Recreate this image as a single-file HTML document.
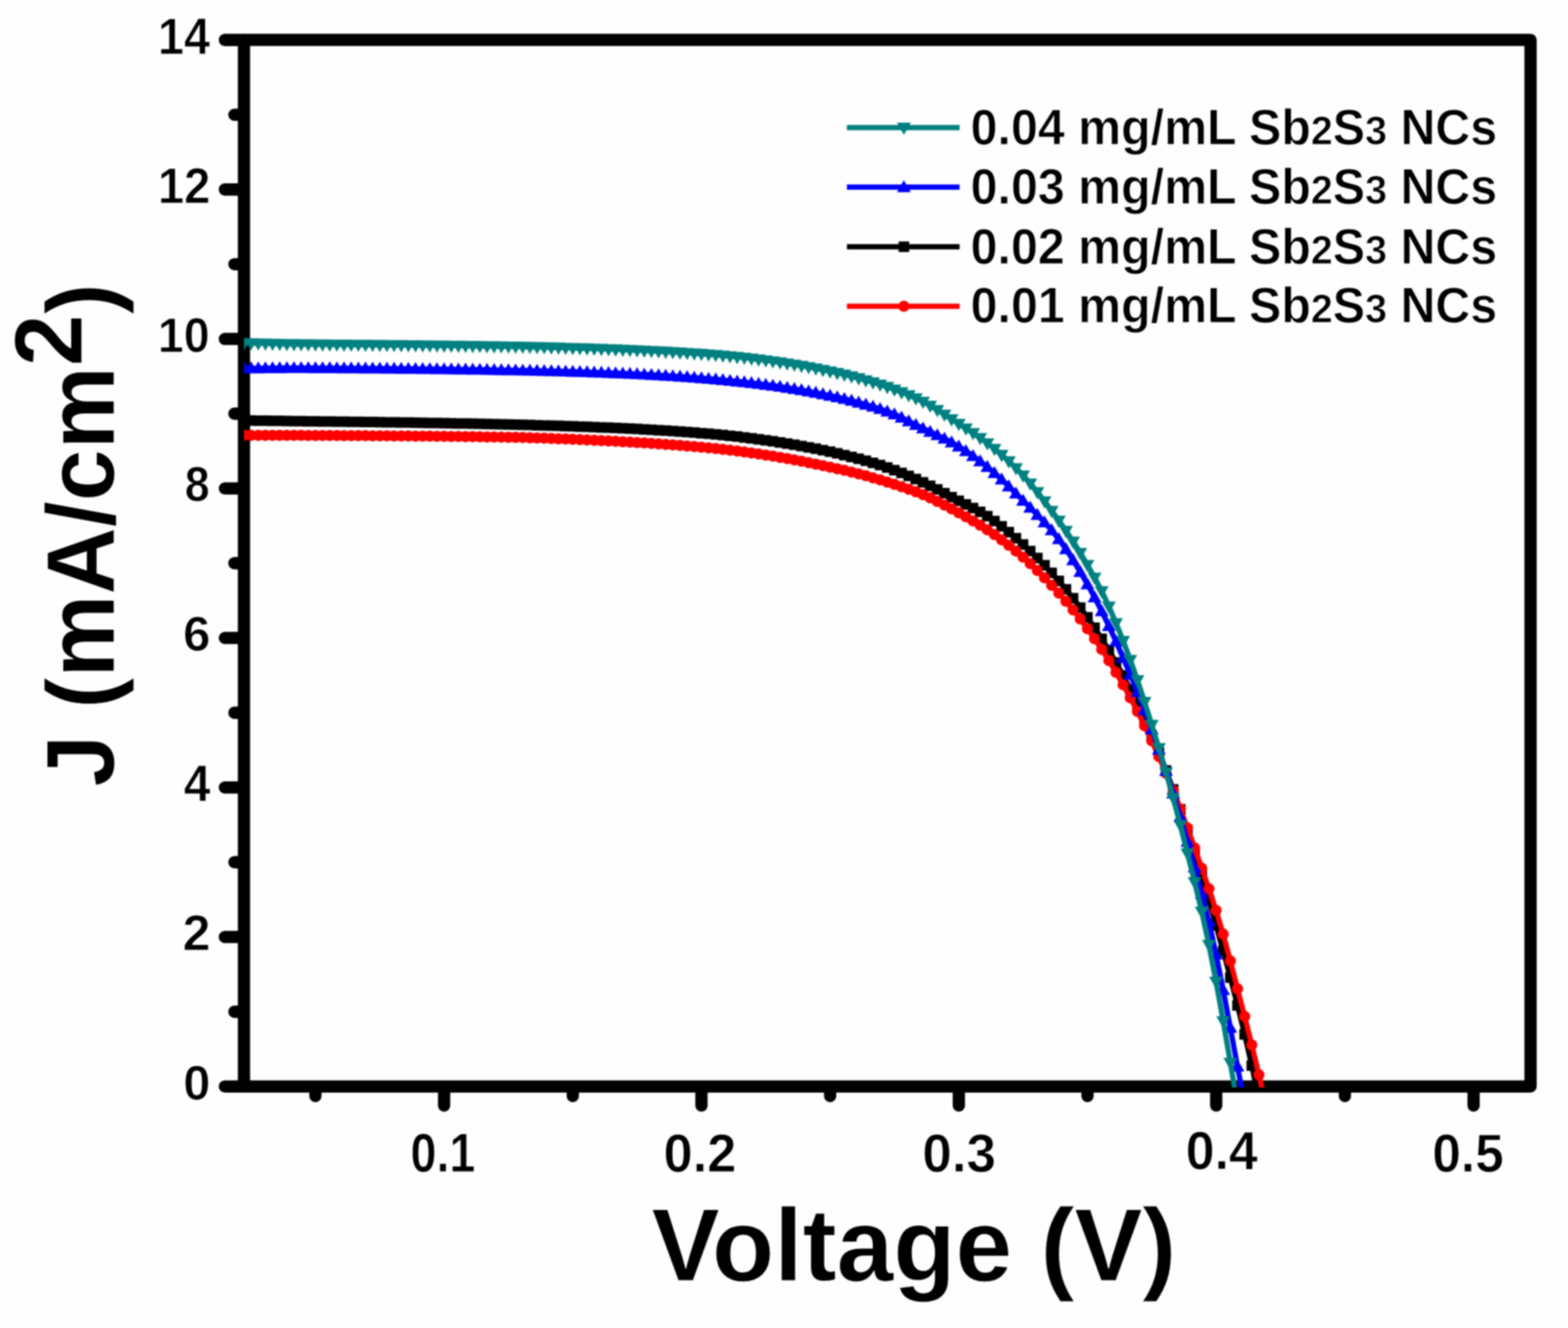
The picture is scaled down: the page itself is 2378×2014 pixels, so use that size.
<!DOCTYPE html>
<html><head><meta charset="utf-8"><title>J-V curves</title>
<style>
html,body{margin:0;padding:0;background:#fefefe;}
svg{display:block;filter:blur(1px);}
text{font-family:"Liberation Sans",Arial,sans-serif;font-weight:bold;fill:#000;stroke:#fefefe;stroke-width:1px;}
</style></head>
<body>
<svg width="2378" height="2014" viewBox="0 0 2378 2014">
<defs><clipPath id="pa"><rect x="370" y="60.5" width="1951.1999999999998" height="1588.7"/></clipPath></defs>
<rect width="2378" height="2014" fill="#fefefe"/>
<path d="M370 60.5H2321.2V1647.7H370Z" fill="none" stroke="#000" stroke-width="18.6" stroke-linejoin="round"/>
<path d="M369 1647.7H341M369 1534.34H355.5M369 1420.97H341M369 1307.61H355.5M369 1194.24H341M369 1080.88H355.5M369 967.52H341M369 854.15H355.5M369 740.79H341M369 627.42H355.5M369 514.06H341M369 400.7H355.5M369 287.33H341M369 173.97H355.5M369 60.6H341M478.33 1648.7V1662.2M673.5 1648.7V1676.7M868.66 1648.7V1662.2M1063.82 1648.7V1676.7M1258.98 1648.7V1662.2M1454.15 1648.7V1676.7M1649.31 1648.7V1662.2M1844.47 1648.7V1676.7M2039.63 1648.7V1662.2M2234.8 1648.7V1676.7" stroke="#000" stroke-width="18.6" stroke-linecap="round"/>
<g clip-path="url(#pa)">
<path d="M370 637.67 380.84 637.8 391.68 637.94 402.52 638.07 413.36 638.21 424.2 638.35 435.04 638.49 445.88 638.63 456.72 638.76 467.56 638.89 478.4 639.01 489.24 639.14 500.08 639.27 510.92 639.4 521.76 639.53 532.6 639.67 543.44 639.8 554.28 639.95 565.12 640.09 575.96 640.24 586.8 640.39 597.64 640.55 608.48 640.71 619.32 640.87 630.16 641.04 641 641.21 651.84 641.39 662.68 641.57 673.52 641.76 684.36 641.96 695.2 642.16 706.04 642.37 716.88 642.58 727.72 642.8 738.56 643.03 749.4 643.27 760.24 643.52 771.08 643.77 781.92 644.04 792.76 644.31 803.6 644.6 814.44 644.89 825.28 645.19 836.12 645.51 846.96 645.84 857.8 646.18 868.64 646.54 879.48 646.92 890.32 647.31 901.16 647.72 912 648.15 922.84 648.6 933.68 649.07 944.52 649.56 955.36 650.08 966.2 650.62 977.04 651.19 987.88 651.79 998.72 652.41 1009.56 653.07 1020.4 653.77 1031.24 654.49 1042.08 655.26 1052.92 656.06 1063.76 656.91 1074.6 657.8 1085.44 658.75 1096.28 659.77 1107.12 660.89 1117.96 662.11 1128.8 663.4 1139.64 664.77 1150.48 666.2 1161.32 667.7 1172.16 669.27 1183 670.93 1193.84 672.66 1204.68 674.48 1215.52 676.39 1226.36 678.4 1237.2 680.51 1248.04 682.73 1258.88 685.07 1269.72 687.54 1280.56 690.14 1291.4 692.88 1302.24 695.76 1313.08 698.79 1323.92 701.99 1334.76 705.37 1345.6 709.01 1356.44 712.93 1367.28 717.16 1378.12 721.67 1388.96 726.43 1399.8 731.45 1410.64 736.75 1421.48 742.33 1432.32 748.11 1443.16 753.92 1454 759.52 1464.84 764.96 1475.68 770.48 1486.52 776.35 1497.36 782.83 1508.2 790.15 1519.04 798.25 1529.88 806.96 1540.72 816.15 1551.56 825.74 1562.4 835.72 1573.24 846.17 1584.08 857.19 1594.92 868.78 1605.76 880.96 1616.6 893.74 1627.44 907.21 1638.28 921.39 1649.12 936.33 1659.96 952.07 1670.8 968.64 1681.64 986.11 1692.48 1004.68 1703.32 1024.5 1714.16 1045.49 1725 1067.62 1735.84 1090.93 1746.68 1115.49 1757.52 1141.36 1768.36 1168.61 1779.2 1197.29 1790.04 1227.49 1800.88 1259.27 1811.72 1292.71 1822.56 1327.89 1833.4 1364.88 1844.24 1403.34 1855.08 1442.15 1865.92 1482.51 1876.76 1524.7 1887.6 1568.78 1898.44 1615.95 1909.28 1667.43" fill="none" stroke="#000000" stroke-width="8" stroke-linejoin="round"/>
<path d="M362 629.67h16v16h-16zM372.84 629.8h16v16h-16zM383.68 629.94h16v16h-16zM394.52 630.07h16v16h-16zM405.36 630.21h16v16h-16zM416.2 630.35h16v16h-16zM427.04 630.49h16v16h-16zM437.88 630.63h16v16h-16zM448.72 630.76h16v16h-16zM459.56 630.89h16v16h-16zM470.4 631.01h16v16h-16zM481.24 631.14h16v16h-16zM492.08 631.27h16v16h-16zM502.92 631.4h16v16h-16zM513.76 631.53h16v16h-16zM524.6 631.67h16v16h-16zM535.44 631.8h16v16h-16zM546.28 631.95h16v16h-16zM557.12 632.09h16v16h-16zM567.96 632.24h16v16h-16zM578.8 632.39h16v16h-16zM589.64 632.55h16v16h-16zM600.48 632.71h16v16h-16zM611.32 632.87h16v16h-16zM622.16 633.04h16v16h-16zM633 633.21h16v16h-16zM643.84 633.39h16v16h-16zM654.68 633.57h16v16h-16zM665.52 633.76h16v16h-16zM676.36 633.96h16v16h-16zM687.2 634.16h16v16h-16zM698.04 634.37h16v16h-16zM708.88 634.58h16v16h-16zM719.72 634.8h16v16h-16zM730.56 635.03h16v16h-16zM741.4 635.27h16v16h-16zM752.24 635.52h16v16h-16zM763.08 635.77h16v16h-16zM773.92 636.04h16v16h-16zM784.76 636.31h16v16h-16zM795.6 636.6h16v16h-16zM806.44 636.89h16v16h-16zM817.28 637.19h16v16h-16zM828.12 637.51h16v16h-16zM838.96 637.84h16v16h-16zM849.8 638.18h16v16h-16zM860.64 638.54h16v16h-16zM871.48 638.92h16v16h-16zM882.32 639.31h16v16h-16zM893.16 639.72h16v16h-16zM904 640.15h16v16h-16zM914.84 640.6h16v16h-16zM925.68 641.07h16v16h-16zM936.52 641.56h16v16h-16zM947.36 642.08h16v16h-16zM958.2 642.62h16v16h-16zM969.04 643.19h16v16h-16zM979.88 643.79h16v16h-16zM990.72 644.41h16v16h-16zM1001.56 645.07h16v16h-16zM1012.4 645.77h16v16h-16zM1023.24 646.49h16v16h-16zM1034.08 647.26h16v16h-16zM1044.92 648.06h16v16h-16zM1055.76 648.91h16v16h-16zM1066.6 649.8h16v16h-16zM1077.44 650.75h16v16h-16zM1088.28 651.77h16v16h-16zM1099.12 652.89h16v16h-16zM1109.96 654.11h16v16h-16zM1120.8 655.4h16v16h-16zM1131.64 656.77h16v16h-16zM1142.48 658.2h16v16h-16zM1153.32 659.7h16v16h-16zM1164.16 661.27h16v16h-16zM1175 662.93h16v16h-16zM1185.84 664.66h16v16h-16zM1196.68 666.48h16v16h-16zM1207.52 668.39h16v16h-16zM1218.36 670.4h16v16h-16zM1229.2 672.51h16v16h-16zM1240.04 674.73h16v16h-16zM1250.88 677.07h16v16h-16zM1261.72 679.54h16v16h-16zM1272.56 682.14h16v16h-16zM1283.4 684.88h16v16h-16zM1294.24 687.76h16v16h-16zM1305.08 690.79h16v16h-16zM1315.92 693.99h16v16h-16zM1326.76 697.37h16v16h-16zM1337.6 701.01h16v16h-16zM1348.44 704.93h16v16h-16zM1359.28 709.16h16v16h-16zM1370.12 713.67h16v16h-16zM1380.96 718.43h16v16h-16zM1391.8 723.45h16v16h-16zM1402.64 728.75h16v16h-16zM1413.48 734.33h16v16h-16zM1424.32 740.11h16v16h-16zM1435.16 745.92h16v16h-16zM1446 751.52h16v16h-16zM1456.84 756.96h16v16h-16zM1467.68 762.48h16v16h-16zM1478.52 768.35h16v16h-16zM1489.36 774.83h16v16h-16zM1500.2 782.15h16v16h-16zM1511.04 790.25h16v16h-16zM1521.88 798.96h16v16h-16zM1532.72 808.15h16v16h-16zM1543.56 817.74h16v16h-16zM1554.4 827.72h16v16h-16zM1565.24 838.17h16v16h-16zM1576.08 849.19h16v16h-16zM1586.92 860.78h16v16h-16zM1597.76 872.96h16v16h-16zM1608.6 885.74h16v16h-16zM1619.44 899.21h16v16h-16zM1630.28 913.39h16v16h-16zM1641.12 928.33h16v16h-16zM1651.96 944.07h16v16h-16zM1662.8 960.64h16v16h-16zM1673.64 978.11h16v16h-16zM1684.48 996.68h16v16h-16zM1695.32 1016.5h16v16h-16zM1706.16 1037.49h16v16h-16zM1717 1059.62h16v16h-16zM1727.84 1082.93h16v16h-16zM1738.68 1107.49h16v16h-16zM1749.52 1133.36h16v16h-16zM1760.36 1160.61h16v16h-16zM1771.2 1189.29h16v16h-16zM1782.04 1219.49h16v16h-16zM1792.88 1251.27h16v16h-16zM1803.72 1284.71h16v16h-16zM1814.56 1319.89h16v16h-16zM1825.4 1356.88h16v16h-16zM1836.24 1395.34h16v16h-16zM1847.08 1434.15h16v16h-16zM1857.92 1474.51h16v16h-16zM1868.76 1516.7h16v16h-16zM1879.6 1560.78h16v16h-16zM1890.44 1607.95h16v16h-16z" fill="#000000"/>
<path d="M370 660.09 380.84 660.15 391.68 660.19 402.52 660.21 413.36 660.24 424.2 660.26 435.04 660.29 445.88 660.32 456.72 660.35 467.56 660.4 478.4 660.44 489.24 660.49 500.08 660.54 510.92 660.6 521.76 660.65 532.6 660.71 543.44 660.77 554.28 660.84 565.12 660.91 575.96 660.98 586.8 661.06 597.64 661.14 608.48 661.22 619.32 661.31 630.16 661.4 641 661.5 651.84 661.6 662.68 661.71 673.52 661.82 684.36 661.94 695.2 662.07 706.04 662.2 716.88 662.34 727.72 662.49 738.56 662.65 749.4 662.81 760.24 662.98 771.08 663.17 781.92 663.37 792.76 663.6 803.6 663.88 814.44 664.22 825.28 664.59 836.12 664.99 846.96 665.4 857.8 665.83 868.64 666.27 879.48 666.74 890.32 667.21 901.16 667.71 912 668.23 922.84 668.76 933.68 669.32 944.52 669.9 955.36 670.51 966.2 671.14 977.04 671.8 987.88 672.48 998.72 673.2 1009.56 673.95 1020.4 674.73 1031.24 675.55 1042.08 676.41 1052.92 677.3 1063.76 678.24 1074.6 679.23 1085.44 680.28 1096.28 681.41 1107.12 682.65 1117.96 683.99 1128.8 685.42 1139.64 686.92 1150.48 688.49 1161.32 690.13 1172.16 691.84 1183 693.63 1193.84 695.51 1204.68 697.47 1215.52 699.52 1226.36 701.66 1237.2 703.88 1248.04 706.16 1258.88 708.49 1269.72 710.88 1280.56 713.36 1291.4 715.97 1302.24 718.72 1313.08 721.61 1323.92 724.66 1334.76 727.85 1345.6 731.17 1356.44 734.6 1367.28 738.15 1378.12 741.88 1388.96 745.87 1399.8 750.25 1410.64 755.09 1421.48 760.38 1432.32 766.01 1443.16 771.84 1454 777.77 1464.84 783.8 1475.68 790.02 1486.52 796.55 1497.36 803.48 1508.2 810.85 1519.04 818.69 1529.88 826.98 1540.72 835.74 1551.56 845.01 1562.4 854.86 1573.24 865.27 1584.08 876.23 1594.92 887.66 1605.76 899.48 1616.6 911.87 1627.44 924.99 1638.28 938.83 1649.12 953.4 1659.96 968.71 1670.8 984.82 1681.64 1001.77 1692.48 1019.64 1703.32 1038.43 1714.16 1058.17 1725 1078.91 1735.84 1100.68 1746.68 1123.54 1757.52 1147.52 1768.36 1172.68 1779.2 1199.06 1790.04 1226.71 1800.88 1255.69 1811.72 1285.97 1822.56 1316.73 1833.4 1348.01 1844.24 1380.63 1855.08 1416.75 1865.92 1457.31 1876.76 1499.62 1887.6 1541.54 1898.44 1584.85 1909.28 1630.04 1920.12 1677.14" fill="none" stroke="#ff0000" stroke-width="8" stroke-linejoin="round"/>
<path d="M361.5 660.09a8.5 8.5 0 1 0 17.0 0a8.5 8.5 0 1 0 -17.0 0zM372.34 660.15a8.5 8.5 0 1 0 17.0 0a8.5 8.5 0 1 0 -17.0 0zM383.18 660.19a8.5 8.5 0 1 0 17.0 0a8.5 8.5 0 1 0 -17.0 0zM394.02 660.21a8.5 8.5 0 1 0 17.0 0a8.5 8.5 0 1 0 -17.0 0zM404.86 660.24a8.5 8.5 0 1 0 17.0 0a8.5 8.5 0 1 0 -17.0 0zM415.7 660.26a8.5 8.5 0 1 0 17.0 0a8.5 8.5 0 1 0 -17.0 0zM426.54 660.29a8.5 8.5 0 1 0 17.0 0a8.5 8.5 0 1 0 -17.0 0zM437.38 660.32a8.5 8.5 0 1 0 17.0 0a8.5 8.5 0 1 0 -17.0 0zM448.22 660.35a8.5 8.5 0 1 0 17.0 0a8.5 8.5 0 1 0 -17.0 0zM459.06 660.4a8.5 8.5 0 1 0 17.0 0a8.5 8.5 0 1 0 -17.0 0zM469.9 660.44a8.5 8.5 0 1 0 17.0 0a8.5 8.5 0 1 0 -17.0 0zM480.74 660.49a8.5 8.5 0 1 0 17.0 0a8.5 8.5 0 1 0 -17.0 0zM491.58 660.54a8.5 8.5 0 1 0 17.0 0a8.5 8.5 0 1 0 -17.0 0zM502.42 660.6a8.5 8.5 0 1 0 17.0 0a8.5 8.5 0 1 0 -17.0 0zM513.26 660.65a8.5 8.5 0 1 0 17.0 0a8.5 8.5 0 1 0 -17.0 0zM524.1 660.71a8.5 8.5 0 1 0 17.0 0a8.5 8.5 0 1 0 -17.0 0zM534.94 660.77a8.5 8.5 0 1 0 17.0 0a8.5 8.5 0 1 0 -17.0 0zM545.78 660.84a8.5 8.5 0 1 0 17.0 0a8.5 8.5 0 1 0 -17.0 0zM556.62 660.91a8.5 8.5 0 1 0 17.0 0a8.5 8.5 0 1 0 -17.0 0zM567.46 660.98a8.5 8.5 0 1 0 17.0 0a8.5 8.5 0 1 0 -17.0 0zM578.3 661.06a8.5 8.5 0 1 0 17.0 0a8.5 8.5 0 1 0 -17.0 0zM589.14 661.14a8.5 8.5 0 1 0 17.0 0a8.5 8.5 0 1 0 -17.0 0zM599.98 661.22a8.5 8.5 0 1 0 17.0 0a8.5 8.5 0 1 0 -17.0 0zM610.82 661.31a8.5 8.5 0 1 0 17.0 0a8.5 8.5 0 1 0 -17.0 0zM621.66 661.4a8.5 8.5 0 1 0 17.0 0a8.5 8.5 0 1 0 -17.0 0zM632.5 661.5a8.5 8.5 0 1 0 17.0 0a8.5 8.5 0 1 0 -17.0 0zM643.34 661.6a8.5 8.5 0 1 0 17.0 0a8.5 8.5 0 1 0 -17.0 0zM654.18 661.71a8.5 8.5 0 1 0 17.0 0a8.5 8.5 0 1 0 -17.0 0zM665.02 661.82a8.5 8.5 0 1 0 17.0 0a8.5 8.5 0 1 0 -17.0 0zM675.86 661.94a8.5 8.5 0 1 0 17.0 0a8.5 8.5 0 1 0 -17.0 0zM686.7 662.07a8.5 8.5 0 1 0 17.0 0a8.5 8.5 0 1 0 -17.0 0zM697.54 662.2a8.5 8.5 0 1 0 17.0 0a8.5 8.5 0 1 0 -17.0 0zM708.38 662.34a8.5 8.5 0 1 0 17.0 0a8.5 8.5 0 1 0 -17.0 0zM719.22 662.49a8.5 8.5 0 1 0 17.0 0a8.5 8.5 0 1 0 -17.0 0zM730.06 662.65a8.5 8.5 0 1 0 17.0 0a8.5 8.5 0 1 0 -17.0 0zM740.9 662.81a8.5 8.5 0 1 0 17.0 0a8.5 8.5 0 1 0 -17.0 0zM751.74 662.98a8.5 8.5 0 1 0 17.0 0a8.5 8.5 0 1 0 -17.0 0zM762.58 663.17a8.5 8.5 0 1 0 17.0 0a8.5 8.5 0 1 0 -17.0 0zM773.42 663.37a8.5 8.5 0 1 0 17.0 0a8.5 8.5 0 1 0 -17.0 0zM784.26 663.6a8.5 8.5 0 1 0 17.0 0a8.5 8.5 0 1 0 -17.0 0zM795.1 663.88a8.5 8.5 0 1 0 17.0 0a8.5 8.5 0 1 0 -17.0 0zM805.94 664.22a8.5 8.5 0 1 0 17.0 0a8.5 8.5 0 1 0 -17.0 0zM816.78 664.59a8.5 8.5 0 1 0 17.0 0a8.5 8.5 0 1 0 -17.0 0zM827.62 664.99a8.5 8.5 0 1 0 17.0 0a8.5 8.5 0 1 0 -17.0 0zM838.46 665.4a8.5 8.5 0 1 0 17.0 0a8.5 8.5 0 1 0 -17.0 0zM849.3 665.83a8.5 8.5 0 1 0 17.0 0a8.5 8.5 0 1 0 -17.0 0zM860.14 666.27a8.5 8.5 0 1 0 17.0 0a8.5 8.5 0 1 0 -17.0 0zM870.98 666.74a8.5 8.5 0 1 0 17.0 0a8.5 8.5 0 1 0 -17.0 0zM881.82 667.21a8.5 8.5 0 1 0 17.0 0a8.5 8.5 0 1 0 -17.0 0zM892.66 667.71a8.5 8.5 0 1 0 17.0 0a8.5 8.5 0 1 0 -17.0 0zM903.5 668.23a8.5 8.5 0 1 0 17.0 0a8.5 8.5 0 1 0 -17.0 0zM914.34 668.76a8.5 8.5 0 1 0 17.0 0a8.5 8.5 0 1 0 -17.0 0zM925.18 669.32a8.5 8.5 0 1 0 17.0 0a8.5 8.5 0 1 0 -17.0 0zM936.02 669.9a8.5 8.5 0 1 0 17.0 0a8.5 8.5 0 1 0 -17.0 0zM946.86 670.51a8.5 8.5 0 1 0 17.0 0a8.5 8.5 0 1 0 -17.0 0zM957.7 671.14a8.5 8.5 0 1 0 17.0 0a8.5 8.5 0 1 0 -17.0 0zM968.54 671.8a8.5 8.5 0 1 0 17.0 0a8.5 8.5 0 1 0 -17.0 0zM979.38 672.48a8.5 8.5 0 1 0 17.0 0a8.5 8.5 0 1 0 -17.0 0zM990.22 673.2a8.5 8.5 0 1 0 17.0 0a8.5 8.5 0 1 0 -17.0 0zM1001.06 673.95a8.5 8.5 0 1 0 17.0 0a8.5 8.5 0 1 0 -17.0 0zM1011.9 674.73a8.5 8.5 0 1 0 17.0 0a8.5 8.5 0 1 0 -17.0 0zM1022.74 675.55a8.5 8.5 0 1 0 17.0 0a8.5 8.5 0 1 0 -17.0 0zM1033.58 676.41a8.5 8.5 0 1 0 17.0 0a8.5 8.5 0 1 0 -17.0 0zM1044.42 677.3a8.5 8.5 0 1 0 17.0 0a8.5 8.5 0 1 0 -17.0 0zM1055.26 678.24a8.5 8.5 0 1 0 17.0 0a8.5 8.5 0 1 0 -17.0 0zM1066.1 679.23a8.5 8.5 0 1 0 17.0 0a8.5 8.5 0 1 0 -17.0 0zM1076.94 680.28a8.5 8.5 0 1 0 17.0 0a8.5 8.5 0 1 0 -17.0 0zM1087.78 681.41a8.5 8.5 0 1 0 17.0 0a8.5 8.5 0 1 0 -17.0 0zM1098.62 682.65a8.5 8.5 0 1 0 17.0 0a8.5 8.5 0 1 0 -17.0 0zM1109.46 683.99a8.5 8.5 0 1 0 17.0 0a8.5 8.5 0 1 0 -17.0 0zM1120.3 685.42a8.5 8.5 0 1 0 17.0 0a8.5 8.5 0 1 0 -17.0 0zM1131.14 686.92a8.5 8.5 0 1 0 17.0 0a8.5 8.5 0 1 0 -17.0 0zM1141.98 688.49a8.5 8.5 0 1 0 17.0 0a8.5 8.5 0 1 0 -17.0 0zM1152.82 690.13a8.5 8.5 0 1 0 17.0 0a8.5 8.5 0 1 0 -17.0 0zM1163.66 691.84a8.5 8.5 0 1 0 17.0 0a8.5 8.5 0 1 0 -17.0 0zM1174.5 693.63a8.5 8.5 0 1 0 17.0 0a8.5 8.5 0 1 0 -17.0 0zM1185.34 695.51a8.5 8.5 0 1 0 17.0 0a8.5 8.5 0 1 0 -17.0 0zM1196.18 697.47a8.5 8.5 0 1 0 17.0 0a8.5 8.5 0 1 0 -17.0 0zM1207.02 699.52a8.5 8.5 0 1 0 17.0 0a8.5 8.5 0 1 0 -17.0 0zM1217.86 701.66a8.5 8.5 0 1 0 17.0 0a8.5 8.5 0 1 0 -17.0 0zM1228.7 703.88a8.5 8.5 0 1 0 17.0 0a8.5 8.5 0 1 0 -17.0 0zM1239.54 706.16a8.5 8.5 0 1 0 17.0 0a8.5 8.5 0 1 0 -17.0 0zM1250.38 708.49a8.5 8.5 0 1 0 17.0 0a8.5 8.5 0 1 0 -17.0 0zM1261.22 710.88a8.5 8.5 0 1 0 17.0 0a8.5 8.5 0 1 0 -17.0 0zM1272.06 713.36a8.5 8.5 0 1 0 17.0 0a8.5 8.5 0 1 0 -17.0 0zM1282.9 715.97a8.5 8.5 0 1 0 17.0 0a8.5 8.5 0 1 0 -17.0 0zM1293.74 718.72a8.5 8.5 0 1 0 17.0 0a8.5 8.5 0 1 0 -17.0 0zM1304.58 721.61a8.5 8.5 0 1 0 17.0 0a8.5 8.5 0 1 0 -17.0 0zM1315.42 724.66a8.5 8.5 0 1 0 17.0 0a8.5 8.5 0 1 0 -17.0 0zM1326.26 727.85a8.5 8.5 0 1 0 17.0 0a8.5 8.5 0 1 0 -17.0 0zM1337.1 731.17a8.5 8.5 0 1 0 17.0 0a8.5 8.5 0 1 0 -17.0 0zM1347.94 734.6a8.5 8.5 0 1 0 17.0 0a8.5 8.5 0 1 0 -17.0 0zM1358.78 738.15a8.5 8.5 0 1 0 17.0 0a8.5 8.5 0 1 0 -17.0 0zM1369.62 741.88a8.5 8.5 0 1 0 17.0 0a8.5 8.5 0 1 0 -17.0 0zM1380.46 745.87a8.5 8.5 0 1 0 17.0 0a8.5 8.5 0 1 0 -17.0 0zM1391.3 750.25a8.5 8.5 0 1 0 17.0 0a8.5 8.5 0 1 0 -17.0 0zM1402.14 755.09a8.5 8.5 0 1 0 17.0 0a8.5 8.5 0 1 0 -17.0 0zM1412.98 760.38a8.5 8.5 0 1 0 17.0 0a8.5 8.5 0 1 0 -17.0 0zM1423.82 766.01a8.5 8.5 0 1 0 17.0 0a8.5 8.5 0 1 0 -17.0 0zM1434.66 771.84a8.5 8.5 0 1 0 17.0 0a8.5 8.5 0 1 0 -17.0 0zM1445.5 777.77a8.5 8.5 0 1 0 17.0 0a8.5 8.5 0 1 0 -17.0 0zM1456.34 783.8a8.5 8.5 0 1 0 17.0 0a8.5 8.5 0 1 0 -17.0 0zM1467.18 790.02a8.5 8.5 0 1 0 17.0 0a8.5 8.5 0 1 0 -17.0 0zM1478.02 796.55a8.5 8.5 0 1 0 17.0 0a8.5 8.5 0 1 0 -17.0 0zM1488.86 803.48a8.5 8.5 0 1 0 17.0 0a8.5 8.5 0 1 0 -17.0 0zM1499.7 810.85a8.5 8.5 0 1 0 17.0 0a8.5 8.5 0 1 0 -17.0 0zM1510.54 818.69a8.5 8.5 0 1 0 17.0 0a8.5 8.5 0 1 0 -17.0 0zM1521.38 826.98a8.5 8.5 0 1 0 17.0 0a8.5 8.5 0 1 0 -17.0 0zM1532.22 835.74a8.5 8.5 0 1 0 17.0 0a8.5 8.5 0 1 0 -17.0 0zM1543.06 845.01a8.5 8.5 0 1 0 17.0 0a8.5 8.5 0 1 0 -17.0 0zM1553.9 854.86a8.5 8.5 0 1 0 17.0 0a8.5 8.5 0 1 0 -17.0 0zM1564.74 865.27a8.5 8.5 0 1 0 17.0 0a8.5 8.5 0 1 0 -17.0 0zM1575.58 876.23a8.5 8.5 0 1 0 17.0 0a8.5 8.5 0 1 0 -17.0 0zM1586.42 887.66a8.5 8.5 0 1 0 17.0 0a8.5 8.5 0 1 0 -17.0 0zM1597.26 899.48a8.5 8.5 0 1 0 17.0 0a8.5 8.5 0 1 0 -17.0 0zM1608.1 911.87a8.5 8.5 0 1 0 17.0 0a8.5 8.5 0 1 0 -17.0 0zM1618.94 924.99a8.5 8.5 0 1 0 17.0 0a8.5 8.5 0 1 0 -17.0 0zM1629.78 938.83a8.5 8.5 0 1 0 17.0 0a8.5 8.5 0 1 0 -17.0 0zM1640.62 953.4a8.5 8.5 0 1 0 17.0 0a8.5 8.5 0 1 0 -17.0 0zM1651.46 968.71a8.5 8.5 0 1 0 17.0 0a8.5 8.5 0 1 0 -17.0 0zM1662.3 984.82a8.5 8.5 0 1 0 17.0 0a8.5 8.5 0 1 0 -17.0 0zM1673.14 1001.77a8.5 8.5 0 1 0 17.0 0a8.5 8.5 0 1 0 -17.0 0zM1683.98 1019.64a8.5 8.5 0 1 0 17.0 0a8.5 8.5 0 1 0 -17.0 0zM1694.82 1038.43a8.5 8.5 0 1 0 17.0 0a8.5 8.5 0 1 0 -17.0 0zM1705.66 1058.17a8.5 8.5 0 1 0 17.0 0a8.5 8.5 0 1 0 -17.0 0zM1716.5 1078.91a8.5 8.5 0 1 0 17.0 0a8.5 8.5 0 1 0 -17.0 0zM1727.34 1100.68a8.5 8.5 0 1 0 17.0 0a8.5 8.5 0 1 0 -17.0 0zM1738.18 1123.54a8.5 8.5 0 1 0 17.0 0a8.5 8.5 0 1 0 -17.0 0zM1749.02 1147.52a8.5 8.5 0 1 0 17.0 0a8.5 8.5 0 1 0 -17.0 0zM1759.86 1172.68a8.5 8.5 0 1 0 17.0 0a8.5 8.5 0 1 0 -17.0 0zM1770.7 1199.06a8.5 8.5 0 1 0 17.0 0a8.5 8.5 0 1 0 -17.0 0zM1781.54 1226.71a8.5 8.5 0 1 0 17.0 0a8.5 8.5 0 1 0 -17.0 0zM1792.38 1255.69a8.5 8.5 0 1 0 17.0 0a8.5 8.5 0 1 0 -17.0 0zM1803.22 1285.97a8.5 8.5 0 1 0 17.0 0a8.5 8.5 0 1 0 -17.0 0zM1814.06 1316.73a8.5 8.5 0 1 0 17.0 0a8.5 8.5 0 1 0 -17.0 0zM1824.9 1348.01a8.5 8.5 0 1 0 17.0 0a8.5 8.5 0 1 0 -17.0 0zM1835.74 1380.63a8.5 8.5 0 1 0 17.0 0a8.5 8.5 0 1 0 -17.0 0zM1846.58 1416.75a8.5 8.5 0 1 0 17.0 0a8.5 8.5 0 1 0 -17.0 0zM1857.42 1457.31a8.5 8.5 0 1 0 17.0 0a8.5 8.5 0 1 0 -17.0 0zM1868.26 1499.62a8.5 8.5 0 1 0 17.0 0a8.5 8.5 0 1 0 -17.0 0zM1879.1 1541.54a8.5 8.5 0 1 0 17.0 0a8.5 8.5 0 1 0 -17.0 0zM1889.94 1584.85a8.5 8.5 0 1 0 17.0 0a8.5 8.5 0 1 0 -17.0 0zM1900.78 1630.04a8.5 8.5 0 1 0 17.0 0a8.5 8.5 0 1 0 -17.0 0z" fill="#ff0000"/>
<path d="M370 558.69 380.84 558.64 391.68 558.57 402.52 558.5 413.36 558.42 424.2 558.34 435.04 558.27 445.88 558.23 456.72 558.23 467.56 558.26 478.4 558.32 489.24 558.38 500.08 558.45 510.92 558.52 521.76 558.59 532.6 558.67 543.44 558.75 554.28 558.83 565.12 558.91 575.96 559 586.8 559.1 597.64 559.19 608.48 559.3 619.32 559.4 630.16 559.51 641 559.63 651.84 559.75 662.68 559.88 673.52 560.01 684.36 560.15 695.2 560.29 706.04 560.45 716.88 560.61 727.72 560.77 738.56 560.95 749.4 561.14 760.24 561.33 771.08 561.54 781.92 561.75 792.76 561.98 803.6 562.2 814.44 562.44 825.28 562.68 836.12 562.94 846.96 563.21 857.8 563.49 868.64 563.8 879.48 564.12 890.32 564.46 901.16 564.81 912 565.2 922.84 565.6 933.68 566.03 944.52 566.48 955.36 566.96 966.2 567.47 977.04 568 987.88 568.57 998.72 569.18 1009.56 569.81 1020.4 570.49 1031.24 571.21 1042.08 571.97 1052.92 572.77 1063.76 573.62 1074.6 574.52 1085.44 575.47 1096.28 576.46 1107.12 577.49 1117.96 578.57 1128.8 579.71 1139.64 580.91 1150.48 582.18 1161.32 583.54 1172.16 584.98 1183 586.51 1193.84 588.13 1204.68 589.85 1215.52 591.68 1226.36 593.61 1237.2 595.66 1248.04 597.82 1258.88 600.09 1269.72 602.48 1280.56 605.01 1291.4 607.68 1302.24 610.53 1313.08 613.54 1323.92 616.76 1334.76 620.23 1345.6 624.08 1356.44 628.47 1367.28 633.42 1378.12 638.78 1388.96 644.31 1399.8 649.73 1410.64 654.9 1421.48 659.98 1432.32 665.24 1443.16 670.9 1454 677.15 1464.84 684.07 1475.68 691.59 1486.52 699.61 1497.36 708.17 1508.2 717.35 1519.04 727.16 1529.88 737.57 1540.72 748.41 1551.56 759.28 1562.4 769.97 1573.24 780.81 1584.08 792.14 1594.92 804.22 1605.76 817.64 1616.6 832.89 1627.44 849.57 1638.28 867.29 1649.12 886.07 1659.96 905.95 1670.8 927 1681.64 949.3 1692.48 972.93 1703.32 997.72 1714.16 1023.02 1725 1049.29 1735.84 1076.96 1746.68 1106.11 1757.52 1136.82 1768.36 1169.16 1779.2 1203.19 1790.04 1239.01 1800.88 1276.68 1811.72 1315.57 1822.56 1355.37 1833.4 1397.65 1844.24 1447.41 1855.08 1501.36 1865.92 1558.62 1876.76 1617.41 1887.6 1675.03" fill="none" stroke="#0000ff" stroke-width="8" stroke-linejoin="round"/>
<path d="M359.5 566.29h21l-10.5 -18.2zM370.34 566.24h21l-10.5 -18.2zM381.18 566.17h21l-10.5 -18.2zM392.02 566.1h21l-10.5 -18.2zM402.86 566.02h21l-10.5 -18.2zM413.7 565.94h21l-10.5 -18.2zM424.54 565.87h21l-10.5 -18.2zM435.38 565.83h21l-10.5 -18.2zM446.22 565.83h21l-10.5 -18.2zM457.06 565.86h21l-10.5 -18.2zM467.9 565.92h21l-10.5 -18.2zM478.74 565.98h21l-10.5 -18.2zM489.58 566.05h21l-10.5 -18.2zM500.42 566.12h21l-10.5 -18.2zM511.26 566.19h21l-10.5 -18.2zM522.1 566.27h21l-10.5 -18.2zM532.94 566.35h21l-10.5 -18.2zM543.78 566.43h21l-10.5 -18.2zM554.62 566.51h21l-10.5 -18.2zM565.46 566.6h21l-10.5 -18.2zM576.3 566.7h21l-10.5 -18.2zM587.14 566.79h21l-10.5 -18.2zM597.98 566.9h21l-10.5 -18.2zM608.82 567h21l-10.5 -18.2zM619.66 567.11h21l-10.5 -18.2zM630.5 567.23h21l-10.5 -18.2zM641.34 567.35h21l-10.5 -18.2zM652.18 567.48h21l-10.5 -18.2zM663.02 567.61h21l-10.5 -18.2zM673.86 567.75h21l-10.5 -18.2zM684.7 567.89h21l-10.5 -18.2zM695.54 568.05h21l-10.5 -18.2zM706.38 568.21h21l-10.5 -18.2zM717.22 568.37h21l-10.5 -18.2zM728.06 568.55h21l-10.5 -18.2zM738.9 568.74h21l-10.5 -18.2zM749.74 568.93h21l-10.5 -18.2zM760.58 569.14h21l-10.5 -18.2zM771.42 569.35h21l-10.5 -18.2zM782.26 569.58h21l-10.5 -18.2zM793.1 569.8h21l-10.5 -18.2zM803.94 570.04h21l-10.5 -18.2zM814.78 570.28h21l-10.5 -18.2zM825.62 570.54h21l-10.5 -18.2zM836.46 570.81h21l-10.5 -18.2zM847.3 571.09h21l-10.5 -18.2zM858.14 571.4h21l-10.5 -18.2zM868.98 571.72h21l-10.5 -18.2zM879.82 572.06h21l-10.5 -18.2zM890.66 572.41h21l-10.5 -18.2zM901.5 572.8h21l-10.5 -18.2zM912.34 573.2h21l-10.5 -18.2zM923.18 573.63h21l-10.5 -18.2zM934.02 574.08h21l-10.5 -18.2zM944.86 574.56h21l-10.5 -18.2zM955.7 575.07h21l-10.5 -18.2zM966.54 575.6h21l-10.5 -18.2zM977.38 576.17h21l-10.5 -18.2zM988.22 576.78h21l-10.5 -18.2zM999.06 577.41h21l-10.5 -18.2zM1009.9 578.09h21l-10.5 -18.2zM1020.74 578.81h21l-10.5 -18.2zM1031.58 579.57h21l-10.5 -18.2zM1042.42 580.37h21l-10.5 -18.2zM1053.26 581.22h21l-10.5 -18.2zM1064.1 582.12h21l-10.5 -18.2zM1074.94 583.07h21l-10.5 -18.2zM1085.78 584.06h21l-10.5 -18.2zM1096.62 585.09h21l-10.5 -18.2zM1107.46 586.17h21l-10.5 -18.2zM1118.3 587.31h21l-10.5 -18.2zM1129.14 588.51h21l-10.5 -18.2zM1139.98 589.78h21l-10.5 -18.2zM1150.82 591.14h21l-10.5 -18.2zM1161.66 592.58h21l-10.5 -18.2zM1172.5 594.11h21l-10.5 -18.2zM1183.34 595.73h21l-10.5 -18.2zM1194.18 597.45h21l-10.5 -18.2zM1205.02 599.28h21l-10.5 -18.2zM1215.86 601.21h21l-10.5 -18.2zM1226.7 603.26h21l-10.5 -18.2zM1237.54 605.42h21l-10.5 -18.2zM1248.38 607.69h21l-10.5 -18.2zM1259.22 610.08h21l-10.5 -18.2zM1270.06 612.61h21l-10.5 -18.2zM1280.9 615.28h21l-10.5 -18.2zM1291.74 618.13h21l-10.5 -18.2zM1302.58 621.14h21l-10.5 -18.2zM1313.42 624.36h21l-10.5 -18.2zM1324.26 627.83h21l-10.5 -18.2zM1335.1 631.68h21l-10.5 -18.2zM1345.94 636.07h21l-10.5 -18.2zM1356.78 641.02h21l-10.5 -18.2zM1367.62 646.38h21l-10.5 -18.2zM1378.46 651.91h21l-10.5 -18.2zM1389.3 657.33h21l-10.5 -18.2zM1400.14 662.5h21l-10.5 -18.2zM1410.98 667.58h21l-10.5 -18.2zM1421.82 672.84h21l-10.5 -18.2zM1432.66 678.5h21l-10.5 -18.2zM1443.5 684.75h21l-10.5 -18.2zM1454.34 691.67h21l-10.5 -18.2zM1465.18 699.19h21l-10.5 -18.2zM1476.02 707.21h21l-10.5 -18.2zM1486.86 715.77h21l-10.5 -18.2zM1497.7 724.95h21l-10.5 -18.2zM1508.54 734.76h21l-10.5 -18.2zM1519.38 745.17h21l-10.5 -18.2zM1530.22 756.01h21l-10.5 -18.2zM1541.06 766.88h21l-10.5 -18.2zM1551.9 777.57h21l-10.5 -18.2zM1562.74 788.41h21l-10.5 -18.2zM1573.58 799.74h21l-10.5 -18.2zM1584.42 811.82h21l-10.5 -18.2zM1595.26 825.24h21l-10.5 -18.2zM1606.1 840.49h21l-10.5 -18.2zM1616.94 857.17h21l-10.5 -18.2zM1627.78 874.89h21l-10.5 -18.2zM1638.62 893.67h21l-10.5 -18.2zM1649.46 913.55h21l-10.5 -18.2zM1660.3 934.6h21l-10.5 -18.2zM1671.14 956.9h21l-10.5 -18.2zM1681.98 980.53h21l-10.5 -18.2zM1692.82 1005.32h21l-10.5 -18.2zM1703.66 1030.62h21l-10.5 -18.2zM1714.5 1056.89h21l-10.5 -18.2zM1725.34 1084.56h21l-10.5 -18.2zM1736.18 1113.71h21l-10.5 -18.2zM1747.02 1144.42h21l-10.5 -18.2zM1757.86 1176.76h21l-10.5 -18.2zM1768.7 1210.79h21l-10.5 -18.2zM1779.54 1246.61h21l-10.5 -18.2zM1790.38 1284.28h21l-10.5 -18.2zM1801.22 1323.17h21l-10.5 -18.2zM1812.06 1362.97h21l-10.5 -18.2zM1822.9 1405.25h21l-10.5 -18.2zM1833.74 1455.01h21l-10.5 -18.2zM1844.58 1508.96h21l-10.5 -18.2zM1855.42 1566.22h21l-10.5 -18.2zM1866.26 1625.01h21l-10.5 -18.2z" fill="#0000ff"/>
<path d="M370 520.09 380.84 520.31 391.68 520.54 402.52 520.79 413.36 521.04 424.2 521.29 435.04 521.53 445.88 521.73 456.72 521.9 467.56 522.02 478.4 522.12 489.24 522.21 500.08 522.29 510.92 522.38 521.76 522.47 532.6 522.56 543.44 522.66 554.28 522.75 565.12 522.85 575.96 522.95 586.8 523.05 597.64 523.15 608.48 523.26 619.32 523.37 630.16 523.48 641 523.59 651.84 523.71 662.68 523.83 673.52 523.96 684.36 524.09 695.2 524.22 706.04 524.36 716.88 524.5 727.72 524.65 738.56 524.8 749.4 524.96 760.24 525.12 771.08 525.29 781.92 525.48 792.76 525.67 803.6 525.89 814.44 526.14 825.28 526.4 836.12 526.68 846.96 526.97 857.8 527.28 868.64 527.59 879.48 527.92 890.32 528.26 901.16 528.61 912 528.98 922.84 529.37 933.68 529.77 944.52 530.2 955.36 530.64 966.2 531.11 977.04 531.59 987.88 532.1 998.72 532.64 1009.56 533.21 1020.4 533.8 1031.24 534.43 1042.08 535.09 1052.92 535.79 1063.76 536.52 1074.6 537.3 1085.44 538.14 1096.28 539.06 1107.12 540.07 1117.96 541.19 1128.8 542.39 1139.64 543.66 1150.48 544.99 1161.32 546.4 1172.16 547.88 1183 549.44 1193.84 551.09 1204.68 552.82 1215.52 554.65 1226.36 556.58 1237.2 558.62 1248.04 560.78 1258.88 563.05 1269.72 565.44 1280.56 567.98 1291.4 570.66 1302.24 573.51 1313.08 576.54 1323.92 579.74 1334.76 583.15 1345.6 586.76 1356.44 590.6 1367.28 594.69 1378.12 599.06 1388.96 603.81 1399.8 609.11 1410.64 615.08 1421.48 621.66 1432.32 628.64 1443.16 635.74 1454 642.69 1464.84 649.55 1475.68 656.61 1486.52 664.09 1497.36 672.07 1508.2 680.6 1519.04 689.7 1529.88 699.4 1540.72 709.78 1551.56 721 1562.4 733.16 1573.24 746.19 1584.08 760.04 1594.92 774.55 1605.76 789.47 1616.6 804.93 1627.44 821.21 1638.28 838.43 1649.12 856.62 1659.96 875.84 1670.8 896.47 1681.64 919.56 1692.48 944.87 1703.32 971.83 1714.16 1000.57 1725 1031.45 1735.84 1064.39 1746.68 1099.12 1757.52 1134.38 1768.36 1171.21 1779.2 1210.1 1790.04 1251.14 1800.88 1294.2 1811.72 1337.54 1822.56 1382.45 1833.4 1432.91 1844.24 1488.53 1855.08 1548.55 1865.92 1611.69 1876.76 1675.39" fill="none" stroke="#008080" stroke-width="8" stroke-linejoin="round"/>
<path d="M359.5 512.69h21l-10.5 18.6zM370.34 512.91h21l-10.5 18.6zM381.18 513.14h21l-10.5 18.6zM392.02 513.39h21l-10.5 18.6zM402.86 513.64h21l-10.5 18.6zM413.7 513.89h21l-10.5 18.6zM424.54 514.13h21l-10.5 18.6zM435.38 514.33h21l-10.5 18.6zM446.22 514.5h21l-10.5 18.6zM457.06 514.62h21l-10.5 18.6zM467.9 514.72h21l-10.5 18.6zM478.74 514.81h21l-10.5 18.6zM489.58 514.89h21l-10.5 18.6zM500.42 514.98h21l-10.5 18.6zM511.26 515.07h21l-10.5 18.6zM522.1 515.16h21l-10.5 18.6zM532.94 515.26h21l-10.5 18.6zM543.78 515.35h21l-10.5 18.6zM554.62 515.45h21l-10.5 18.6zM565.46 515.55h21l-10.5 18.6zM576.3 515.65h21l-10.5 18.6zM587.14 515.75h21l-10.5 18.6zM597.98 515.86h21l-10.5 18.6zM608.82 515.97h21l-10.5 18.6zM619.66 516.08h21l-10.5 18.6zM630.5 516.19h21l-10.5 18.6zM641.34 516.31h21l-10.5 18.6zM652.18 516.43h21l-10.5 18.6zM663.02 516.56h21l-10.5 18.6zM673.86 516.69h21l-10.5 18.6zM684.7 516.82h21l-10.5 18.6zM695.54 516.96h21l-10.5 18.6zM706.38 517.1h21l-10.5 18.6zM717.22 517.25h21l-10.5 18.6zM728.06 517.4h21l-10.5 18.6zM738.9 517.56h21l-10.5 18.6zM749.74 517.72h21l-10.5 18.6zM760.58 517.89h21l-10.5 18.6zM771.42 518.08h21l-10.5 18.6zM782.26 518.27h21l-10.5 18.6zM793.1 518.49h21l-10.5 18.6zM803.94 518.74h21l-10.5 18.6zM814.78 519h21l-10.5 18.6zM825.62 519.28h21l-10.5 18.6zM836.46 519.57h21l-10.5 18.6zM847.3 519.88h21l-10.5 18.6zM858.14 520.19h21l-10.5 18.6zM868.98 520.52h21l-10.5 18.6zM879.82 520.86h21l-10.5 18.6zM890.66 521.21h21l-10.5 18.6zM901.5 521.58h21l-10.5 18.6zM912.34 521.97h21l-10.5 18.6zM923.18 522.37h21l-10.5 18.6zM934.02 522.8h21l-10.5 18.6zM944.86 523.24h21l-10.5 18.6zM955.7 523.71h21l-10.5 18.6zM966.54 524.19h21l-10.5 18.6zM977.38 524.7h21l-10.5 18.6zM988.22 525.24h21l-10.5 18.6zM999.06 525.81h21l-10.5 18.6zM1009.9 526.4h21l-10.5 18.6zM1020.74 527.03h21l-10.5 18.6zM1031.58 527.69h21l-10.5 18.6zM1042.42 528.39h21l-10.5 18.6zM1053.26 529.12h21l-10.5 18.6zM1064.1 529.9h21l-10.5 18.6zM1074.94 530.74h21l-10.5 18.6zM1085.78 531.66h21l-10.5 18.6zM1096.62 532.67h21l-10.5 18.6zM1107.46 533.79h21l-10.5 18.6zM1118.3 534.99h21l-10.5 18.6zM1129.14 536.26h21l-10.5 18.6zM1139.98 537.59h21l-10.5 18.6zM1150.82 539h21l-10.5 18.6zM1161.66 540.48h21l-10.5 18.6zM1172.5 542.04h21l-10.5 18.6zM1183.34 543.69h21l-10.5 18.6zM1194.18 545.42h21l-10.5 18.6zM1205.02 547.25h21l-10.5 18.6zM1215.86 549.18h21l-10.5 18.6zM1226.7 551.22h21l-10.5 18.6zM1237.54 553.38h21l-10.5 18.6zM1248.38 555.65h21l-10.5 18.6zM1259.22 558.04h21l-10.5 18.6zM1270.06 560.58h21l-10.5 18.6zM1280.9 563.26h21l-10.5 18.6zM1291.74 566.11h21l-10.5 18.6zM1302.58 569.14h21l-10.5 18.6zM1313.42 572.34h21l-10.5 18.6zM1324.26 575.75h21l-10.5 18.6zM1335.1 579.36h21l-10.5 18.6zM1345.94 583.2h21l-10.5 18.6zM1356.78 587.29h21l-10.5 18.6zM1367.62 591.66h21l-10.5 18.6zM1378.46 596.41h21l-10.5 18.6zM1389.3 601.71h21l-10.5 18.6zM1400.14 607.68h21l-10.5 18.6zM1410.98 614.26h21l-10.5 18.6zM1421.82 621.24h21l-10.5 18.6zM1432.66 628.34h21l-10.5 18.6zM1443.5 635.29h21l-10.5 18.6zM1454.34 642.15h21l-10.5 18.6zM1465.18 649.21h21l-10.5 18.6zM1476.02 656.69h21l-10.5 18.6zM1486.86 664.67h21l-10.5 18.6zM1497.7 673.2h21l-10.5 18.6zM1508.54 682.3h21l-10.5 18.6zM1519.38 692h21l-10.5 18.6zM1530.22 702.38h21l-10.5 18.6zM1541.06 713.6h21l-10.5 18.6zM1551.9 725.76h21l-10.5 18.6zM1562.74 738.79h21l-10.5 18.6zM1573.58 752.64h21l-10.5 18.6zM1584.42 767.15h21l-10.5 18.6zM1595.26 782.07h21l-10.5 18.6zM1606.1 797.53h21l-10.5 18.6zM1616.94 813.81h21l-10.5 18.6zM1627.78 831.03h21l-10.5 18.6zM1638.62 849.22h21l-10.5 18.6zM1649.46 868.44h21l-10.5 18.6zM1660.3 889.07h21l-10.5 18.6zM1671.14 912.16h21l-10.5 18.6zM1681.98 937.47h21l-10.5 18.6zM1692.82 964.43h21l-10.5 18.6zM1703.66 993.17h21l-10.5 18.6zM1714.5 1024.05h21l-10.5 18.6zM1725.34 1056.99h21l-10.5 18.6zM1736.18 1091.72h21l-10.5 18.6zM1747.02 1126.98h21l-10.5 18.6zM1757.86 1163.81h21l-10.5 18.6zM1768.7 1202.7h21l-10.5 18.6zM1779.54 1243.74h21l-10.5 18.6zM1790.38 1286.8h21l-10.5 18.6zM1801.22 1330.14h21l-10.5 18.6zM1812.06 1375.05h21l-10.5 18.6zM1822.9 1425.51h21l-10.5 18.6zM1833.74 1481.13h21l-10.5 18.6zM1844.58 1541.15h21l-10.5 18.6zM1855.42 1604.29h21l-10.5 18.6z" fill="#008080"/>
</g>
<path d="M1284.4 193.4H1455.3" stroke="#008080" stroke-width="8"/>
<path d="M1360.3 186h21l-10.5 18.6z" fill="#008080"/>
<path d="M1284.4 283.8H1455.3" stroke="#0000ff" stroke-width="8"/>
<path d="M1360.3 291.4h21l-10.5 -18.2z" fill="#0000ff"/>
<path d="M1284.4 374.2H1455.3" stroke="#000000" stroke-width="8"/>
<path d="M1362.8 366.2h16v16h-16z" fill="#000000"/>
<path d="M1284.4 464.6H1455.3" stroke="#ff0000" stroke-width="8"/>
<path d="M1362.3 464.6a8.5 8.5 0 1 0 17.0 0a8.5 8.5 0 1 0 -17.0 0z" fill="#ff0000"/>
<text transform="matrix(1.0254 0 0 1.0321 319.12 1668)" font-size="72" text-anchor="end">0</text>
<text transform="matrix(1.0532 0 0 1.0532 319.2 1441.4)" font-size="72" text-anchor="end">2</text>
<text transform="matrix(1.0118 0 0 1.0743 319.25 1214.8)" font-size="72" text-anchor="end">4</text>
<text transform="matrix(1.0321 0 0 1.0321 319.09 987.08)" font-size="72" text-anchor="end">6</text>
<text transform="matrix(0.94072 0 0 1.0321 317.93 760.44)" font-size="72" text-anchor="end">8</text>
<text transform="matrix(0.97799 0 0 1.0321 317.94 533.79)" font-size="72" text-anchor="end">10</text>
<text transform="matrix(0.99188 0 0 1.0532 318.98 308.17)" font-size="72" text-anchor="end">12</text>
<text transform="matrix(0.98685 0 0 1.0743 318.61 81.574)" font-size="72" text-anchor="end">14</text>
<text transform="matrix(0.92168 0 0 1.0742 671.74 1777.4)" font-size="77" text-anchor="middle">0.1</text>
<text transform="matrix(1.0338 0 0 1.0595 1061.5 1777.2)" font-size="77" text-anchor="middle">0.2</text>
<text transform="matrix(1.046 0 0 1.0595 1454.6 1777.2)" font-size="77" text-anchor="middle">0.3</text>
<text transform="matrix(1.0213 0 0 1.0595 1852.9 1773.2)" font-size="77" text-anchor="middle">0.4</text>
<text transform="matrix(1.0119 0 0 1.0595 2226.4 1777.2)" font-size="77" text-anchor="middle">0.5</text>
<text transform="matrix(1.0323 0 0 1.0614 1472.1 218.62)" font-size="71" text-anchor="start">0.04 mg/mL Sb<tspan font-size="58">2</tspan>S<tspan font-size="58">3</tspan> NCs</text>
<text transform="matrix(1.0323 0 0 1.0614 1472.1 309.48)" font-size="71" text-anchor="start">0.03 mg/mL Sb<tspan font-size="58">2</tspan>S<tspan font-size="58">3</tspan> NCs</text>
<text transform="matrix(1.0323 0 0 1.0614 1472.1 399.79)" font-size="71" text-anchor="start">0.02 mg/mL Sb<tspan font-size="58">2</tspan>S<tspan font-size="58">3</tspan> NCs</text>
<text transform="matrix(1.0323 0 0 1.0614 1472.1 488.68)" font-size="71" text-anchor="start">0.01 mg/mL Sb<tspan font-size="58">2</tspan>S<tspan font-size="58">3</tspan> NCs</text>
<text transform="matrix(1.0105 0 0 1.0187 1386.1 1942)" font-size="153" text-anchor="middle">Voltage (V)</text>
<text transform="matrix(0 -0.9971 1.0354 0 172.97 811.31)" font-size="142" text-anchor="middle">J (mA/cm<tspan dy="-47">2</tspan><tspan dy="47">)</tspan></text>
</svg>
</body></html>
